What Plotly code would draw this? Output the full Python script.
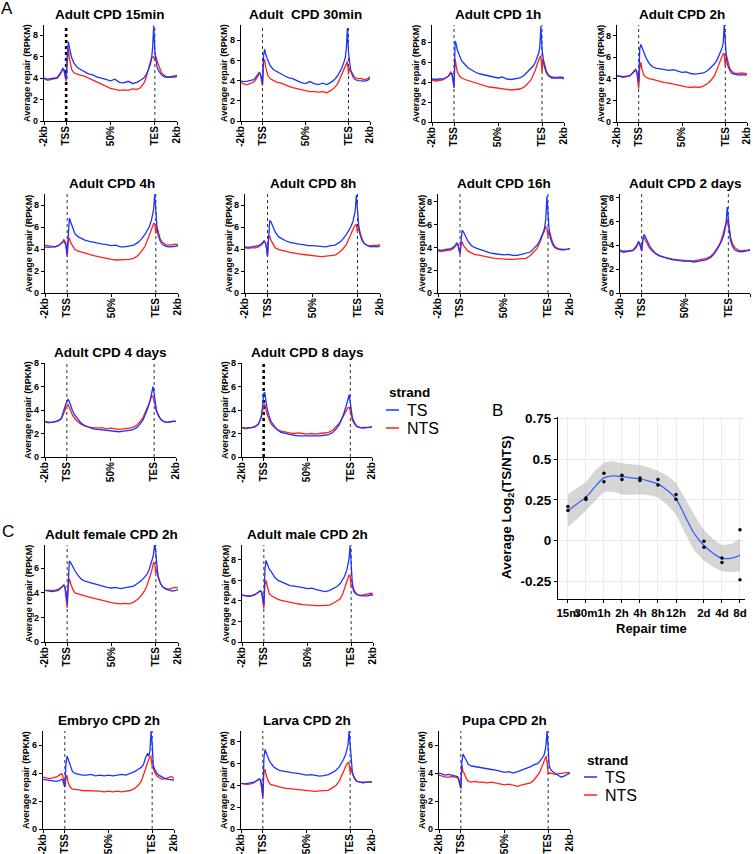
import plotly.graph_objects as go

W, H = 754, 854
FONT = "Liberation Sans, Arial, sans-serif"
BLUE = "#1b33ff"
RED = "#ff2216"

# ---------------- data: metagene profiles (bins: -2kb=0, TSS=20, 50%=60, TES=100, 2kb=120)
BINS = [0, 3, 6, 9, 12, 15, 17, 18, 19, 20, 21, 22, 23, 25, 27, 30, 33, 36, 40, 44, 48, 52, 56, 60,
        64, 68, 72, 76, 80, 84, 87, 90, 92, 94, 96, 97, 98, 99, 100, 101, 102, 104, 106, 109, 112, 115, 118, 120]
TICK_POS = [0, 20, 60, 100, 120]
TICK_TEXT = ["-2kb", "TSS", "50%", "TES", "2kb"]

TS_15MIN = [4.0, 3.9, 3.95, 4.0, 4.05, 4.5, 4.9, 4.8, 4.4, 3.9, 6.2, 7.4, 6.8, 5.9, 5.4, 5.0, 4.8, 4.6, 4.4, 4.3, 4.1, 4.0, 3.85, 3.75,
            3.9, 3.6, 3.55, 3.7, 3.5, 3.6, 3.8, 4.0, 4.3, 4.7, 5.3, 5.8, 6.8, 8.9, 6.5, 5.6, 5.0, 4.6, 4.3, 4.1, 4.1, 4.05, 4.1, 4.15]
NTS_15MIN = [3.95, 3.8, 3.85, 3.9, 4.0, 4.4, 4.85, 4.7, 4.3, 3.7, 5.6, 6.7, 5.8, 4.8, 4.5, 4.35, 4.25, 4.2, 4.0, 3.8, 3.6, 3.4, 3.2, 3.05,
             2.95, 2.85, 2.9, 2.85, 3.0, 2.95, 3.1, 3.5, 4.0, 4.8, 5.6, 5.9, 5.9, 6.05, 5.6, 6.0, 5.6, 5.0, 4.5, 4.2, 4.05, 4.15, 4.2, 4.25]
TS_30MIN = [3.95, 3.9, 3.95, 4.0, 4.1, 4.5, 4.8, 4.7, 4.3, 3.6, 6.5, 7.1, 6.6, 6.0, 5.5, 5.1, 4.9, 4.7, 4.5, 4.3, 4.2, 4.0, 3.8, 3.7,
            3.9, 3.7, 3.6, 3.75, 3.6, 3.85, 4.1, 4.5, 4.9, 5.3, 5.9, 6.3, 7.2, 9.2, 6.8, 5.6, 5.0, 4.4, 4.1, 4.0, 4.0, 3.95, 4.05, 4.2]
NTS_30MIN = [3.8, 3.65, 3.6, 3.7, 3.85, 4.3, 4.75, 4.6, 4.1, 3.5, 5.8, 6.1, 5.3, 4.5, 4.2, 4.0, 3.85, 3.8, 3.6, 3.45, 3.3, 3.2, 3.05, 2.95,
             2.9, 2.9, 2.85, 2.9, 2.8, 3.05, 3.3, 3.7, 4.2, 4.7, 5.3, 5.5, 5.8, 5.9, 4.6, 5.3, 5.0, 4.6, 4.3, 4.2, 4.2, 4.1, 4.2, 4.4]
TS_1H = [4.3, 4.25, 4.3, 4.3, 4.4, 4.6, 4.85, 4.8, 4.3, 3.4, 8.1, 7.8, 7.2, 6.6, 6.1, 5.75, 5.4, 5.2, 4.95, 4.8, 4.7, 4.65, 4.5, 4.4,
         4.5, 4.3, 4.25, 4.35, 4.4, 4.7, 5.0, 5.3, 5.6, 6.0, 6.5, 6.9, 7.5, 9.6, 7.3, 6.3, 5.6, 4.9, 4.6, 4.4, 4.4, 4.45, 4.4, 4.3]
NTS_1H = [4.2, 4.1, 4.15, 4.2, 4.35, 4.6, 5.0, 4.9, 4.3, 3.55, 6.3, 5.7, 5.0, 4.6, 4.4, 4.25, 4.15, 4.05, 3.9, 3.75, 3.6, 3.5, 3.45, 3.4,
          3.35, 3.25, 3.2, 3.25, 3.3, 3.5, 3.8, 4.2, 4.7, 5.2, 5.9, 6.3, 6.5, 6.6, 5.0, 6.3, 5.9, 5.1, 4.7, 4.5, 4.45, 4.5, 4.5, 4.4]
TS_2H = [4.3, 4.25, 4.2, 4.25, 4.3, 4.6, 4.8, 4.7, 4.4, 3.7, 6.8, 7.2, 6.9, 6.3, 5.9, 5.4, 5.1, 5.0, 4.95, 4.9, 4.8, 4.85, 4.7, 4.6,
         4.65, 4.5, 4.45, 4.5, 4.55, 4.8, 5.1, 5.4, 5.7, 6.1, 6.6, 6.9, 7.3, 9.0, 7.0, 5.9, 5.3, 4.8, 4.5, 4.4, 4.35, 4.4, 4.35, 4.4]
NTS_2H = [4.25, 4.2, 4.15, 4.2, 4.3, 4.65, 4.9, 4.8, 4.1, 3.1, 5.0, 5.55, 4.9, 4.3, 4.15, 4.0, 3.95, 3.85, 3.75, 3.65, 3.6, 3.5, 3.4, 3.3,
          3.25, 3.2, 3.25, 3.2, 3.35, 3.6, 3.9, 4.3, 4.8, 5.3, 5.9, 6.2, 6.35, 6.3, 5.1, 6.2, 5.8, 5.0, 4.7, 4.5, 4.5, 4.55, 4.5, 4.45]
TS_4H = [4.2, 4.15, 4.2, 4.2, 4.3, 4.5, 4.7, 4.6, 4.3, 3.5, 6.0, 6.8, 6.5, 5.9, 5.4, 5.1, 4.95, 4.8, 4.7, 4.6, 4.5, 4.45, 4.4, 4.3,
         4.35, 4.2, 4.2, 4.3, 4.35, 4.6, 4.9, 5.3, 5.6, 6.0, 6.6, 7.0, 7.6, 9.0, 7.2, 6.0, 5.3, 4.7, 4.4, 4.25, 4.2, 4.2, 4.25, 4.3]
NTS_4H = [4.35, 4.3, 4.2, 4.2, 4.3, 4.55, 4.85, 4.7, 4.1, 3.3, 4.8, 5.0, 4.6, 4.2, 3.95, 3.8, 3.7, 3.6, 3.5, 3.4, 3.3, 3.2, 3.1, 3.05,
          3.0, 3.0, 3.0, 3.05, 3.15, 3.4, 3.8, 4.2, 4.7, 5.2, 5.8, 6.1, 6.3, 6.3, 5.4, 6.0, 5.6, 4.9, 4.6, 4.4, 4.35, 4.4, 4.45, 4.4]
TS_8H = [4.2, 4.15, 4.2, 4.25, 4.3, 4.5, 4.75, 4.6, 4.2, 3.4, 5.6, 6.6, 6.5, 6.0, 5.5, 5.1, 4.9, 4.75, 4.6, 4.5, 4.45, 4.4, 4.3, 4.3,
         4.25, 4.2, 4.2, 4.3, 4.35, 4.6, 4.9, 5.3, 5.6, 6.0, 6.5, 6.9, 7.5, 8.9, 7.3, 6.2, 5.4, 4.8, 4.5, 4.3, 4.2, 4.25, 4.2, 4.3]
NTS_8H = [4.1, 4.05, 4.1, 4.1, 4.2, 4.4, 4.7, 4.6, 4.1, 3.3, 5.1, 5.2, 4.8, 4.4, 4.1, 3.95, 3.85, 3.8, 3.7, 3.6, 3.55, 3.5, 3.45, 3.4,
          3.35, 3.3, 3.35, 3.4, 3.45, 3.7, 4.0, 4.4, 4.8, 5.3, 5.8, 6.0, 6.2, 6.2, 5.5, 6.0, 5.6, 4.9, 4.5, 4.3, 4.3, 4.3, 4.35, 4.4]
TS_16H = [3.8, 3.75, 3.8, 3.85, 3.9, 4.1, 4.4, 4.3, 4.0, 3.5, 4.6, 5.5, 5.4, 5.0, 4.6, 4.2, 4.0, 3.9, 3.75, 3.6, 3.5, 3.45, 3.4, 3.35,
          3.4, 3.3, 3.3, 3.4, 3.45, 3.6, 3.9, 4.2, 4.5, 4.9, 5.4, 5.8, 6.5, 8.5, 6.8, 5.6, 4.9, 4.3, 4.0, 3.85, 3.8, 3.8, 3.85, 3.9]
NTS_16H = [3.7, 3.65, 3.7, 3.75, 3.8, 4.0, 4.3, 4.25, 3.9, 3.4, 4.3, 4.5, 4.2, 3.9, 3.7, 3.55, 3.4, 3.35, 3.25, 3.15, 3.1, 3.05, 3.0, 3.0,
           2.95, 2.95, 3.0, 3.0, 3.05, 3.3, 3.6, 3.9, 4.3, 4.8, 5.3, 5.6, 5.8, 5.7, 5.0, 5.5, 5.1, 4.5, 4.1, 3.9, 3.85, 3.8, 3.85, 3.9]
TS_2D = [3.6, 3.5, 3.5, 3.55, 3.6, 3.9, 4.3, 4.2, 3.9, 3.6, 4.4, 4.9, 4.8, 4.4, 4.0, 3.6, 3.3, 3.15, 3.0, 2.9, 2.8, 2.75, 2.7, 2.65,
         2.7, 2.6, 2.65, 2.7, 2.8, 3.0, 3.3, 3.7, 4.0, 4.4, 4.9, 5.3, 5.9, 7.2, 6.0, 5.0, 4.4, 3.9, 3.6, 3.5, 3.45, 3.5, 3.55, 3.6]
NTS_2D = [3.5, 3.4, 3.45, 3.5, 3.55, 3.8, 4.2, 4.15, 3.85, 3.5, 4.4, 4.7, 4.5, 4.1, 3.8, 3.5, 3.3, 3.1, 3.0, 2.9, 2.85, 2.8, 2.75, 2.75,
          2.7, 2.7, 2.75, 2.8, 2.9, 3.1, 3.4, 3.8, 4.1, 4.6, 5.2, 5.6, 6.0, 6.2, 5.6, 5.3, 4.7, 4.1, 3.8, 3.6, 3.55, 3.55, 3.6, 3.65]
TS_4D = [3.0, 2.95, 2.95, 3.0, 3.1, 3.3, 3.8, 4.2, 4.5, 4.7, 4.9, 4.8, 4.5, 4.0, 3.6, 3.2, 2.9, 2.7, 2.55, 2.4, 2.35, 2.3, 2.25, 2.2,
         2.2, 2.15, 2.2, 2.25, 2.3, 2.5, 2.8, 3.2, 3.6, 4.1, 4.7, 5.1, 5.6, 6.0, 5.4, 4.6, 4.0, 3.5, 3.2, 3.0, 2.95, 3.0, 3.0, 3.05]
NTS_4D = [3.0, 2.9, 2.95, 3.0, 3.05, 3.25, 3.6, 3.9, 4.2, 4.4, 4.5, 4.3, 4.0, 3.6, 3.3, 3.0, 2.8, 2.65, 2.55, 2.5, 2.45, 2.5, 2.4, 2.45,
          2.4, 2.35, 2.4, 2.45, 2.5, 2.7, 3.0, 3.4, 3.8, 4.2, 4.7, 5.0, 5.2, 5.1, 4.8, 4.4, 3.9, 3.5, 3.2, 3.0, 2.95, 3.0, 3.05, 3.0]
TS_8D = [2.5, 2.45, 2.5, 2.5, 2.6, 2.8, 3.2, 3.6, 4.3, 5.4, 5.5, 4.8, 4.2, 3.5, 3.0, 2.6, 2.3, 2.1, 2.0, 1.9, 1.85, 1.8, 1.8, 1.75,
         1.8, 1.75, 1.8, 1.85, 1.9, 2.1, 2.4, 2.8, 3.2, 3.7, 4.3, 4.7, 5.1, 5.3, 4.6, 3.8, 3.3, 2.9, 2.6, 2.5, 2.45, 2.5, 2.5, 2.55]
NTS_8D = [2.5, 2.4, 2.45, 2.5, 2.55, 2.75, 3.1, 3.4, 3.9, 4.4, 4.5, 4.1, 3.7, 3.2, 2.8, 2.5, 2.3, 2.2, 2.1, 2.05, 2.0, 2.05, 2.0, 1.95,
          2.0, 1.95, 2.0, 2.05, 2.1, 2.3, 2.6, 2.9, 3.2, 3.6, 3.9, 4.1, 4.2, 4.2, 3.9, 3.5, 3.1, 2.8, 2.6, 2.5, 2.5, 2.5, 2.55, 2.6]
TS_FEMALE = [4.2, 4.15, 4.1, 4.15, 4.2, 4.45, 4.65, 4.5, 4.0, 3.1, 5.6, 6.6, 6.5, 6.1, 5.8, 5.4, 5.1, 4.95, 4.85, 4.75, 4.6, 4.55, 4.45, 4.4,
             4.45, 4.35, 4.4, 4.45, 4.55, 4.8, 5.0, 5.3, 5.5, 5.9, 6.4, 6.8, 7.2, 8.1, 7.2, 5.9, 5.3, 4.8, 4.5, 4.3, 4.2, 4.15, 4.2, 4.25]
NTS_FEMALE = [4.2, 4.2, 4.15, 4.2, 4.3, 4.5, 4.6, 4.4, 3.8, 2.8, 4.6, 5.15, 4.8, 4.3, 4.0, 3.9, 3.8, 3.75, 3.65, 3.55, 3.45, 3.35, 3.25, 3.2,
              3.15, 3.1, 3.15, 3.1, 3.25, 3.5, 3.8, 4.2, 4.6, 5.1, 5.7, 6.1, 6.5, 6.4, 5.6, 5.9, 5.4, 4.8, 4.5, 4.35, 4.3, 4.4, 4.45, 4.4]
TS_MALE = [4.55, 4.5, 4.45, 4.5, 4.6, 4.85, 5.0, 4.85, 4.4, 3.6, 7.0, 7.95, 7.6, 7.1, 6.8, 6.3, 6.0, 5.85, 5.7, 5.5, 5.45, 5.4, 5.3, 5.2,
           5.25, 5.1, 5.0, 4.9, 5.0, 5.2, 5.4, 5.7, 6.0, 6.4, 7.0, 7.5, 8.1, 9.4, 7.5, 5.8, 5.2, 4.8, 4.6, 4.5, 4.5, 4.5, 4.6, 4.55]
NTS_MALE = [4.6, 4.55, 4.5, 4.55, 4.65, 4.85, 5.0, 4.8, 4.2, 3.25, 5.6, 6.0, 5.5, 4.7, 4.5, 4.3, 4.15, 4.05, 3.95, 3.85, 3.75, 3.7, 3.65, 3.6,
            3.6, 3.55, 3.55, 3.6, 3.6, 3.8, 4.0, 4.2, 4.6, 5.2, 5.8, 6.1, 6.5, 6.4, 5.4, 5.6, 5.0, 4.7, 4.6, 4.55, 4.6, 4.7, 4.75, 4.7]
TS_EMBRYO = [3.55, 3.5, 3.45, 3.4, 3.4, 3.45, 3.55, 3.5, 3.3, 3.0, 4.6, 5.2, 5.0, 4.5, 4.1, 3.95, 3.9, 3.85, 3.85, 3.9, 3.8, 3.85, 3.8, 3.85,
             3.8, 3.85, 3.9, 3.85, 3.95, 4.1, 4.25, 4.4, 4.6, 5.1, 5.4, 5.2, 5.6, 7.0, 6.1, 4.6, 4.3, 4.0, 3.85, 3.7, 3.6, 3.55, 3.55, 3.5]
NTS_EMBRYO = [3.7, 3.65, 3.6, 3.65, 3.7, 3.85, 3.95, 3.85, 3.4, 3.0, 3.6, 3.85, 3.3, 3.0, 2.85, 2.85, 2.8, 2.75, 2.75, 2.7, 2.75, 2.7, 2.65, 2.7,
              2.65, 2.7, 2.65, 2.7, 2.75, 2.9, 3.1, 3.4, 3.8, 4.3, 4.8, 5.0, 5.2, 5.1, 4.5, 4.4, 4.1, 3.8, 3.7, 3.55, 3.6, 3.7, 3.75, 3.6]
TS_LARVA = [4.2, 4.15, 4.2, 4.25, 4.3, 4.5, 4.6, 4.5, 4.0, 3.0, 6.5, 7.3, 7.0, 6.5, 6.1, 5.7, 5.5, 5.35, 5.3, 5.2, 5.15, 5.1, 5.0, 4.95,
            5.0, 4.9, 4.85, 4.9, 5.0, 5.2, 5.4, 5.7, 6.0, 6.4, 6.9, 7.2, 7.7, 9.0, 7.4, 5.9, 5.2, 4.7, 4.4, 4.3, 4.25, 4.3, 4.35, 4.3]
NTS_LARVA = [4.2, 4.15, 4.1, 4.15, 4.25, 4.45, 4.55, 4.4, 3.8, 2.9, 5.2, 5.5, 5.0, 4.4, 4.1, 4.0, 3.9, 3.85, 3.75, 3.7, 3.65, 3.6, 3.55, 3.5,
             3.5, 3.45, 3.5, 3.5, 3.55, 3.8, 4.0, 4.4, 4.8, 5.3, 5.8, 6.0, 6.1, 6.0, 5.2, 5.6, 5.1, 4.6, 4.4, 4.3, 4.3, 4.35, 4.35, 4.3]
TS_PUPA = [4.0, 3.9, 3.85, 3.9, 3.85, 3.8, 3.75, 3.6, 3.3, 2.9, 4.8, 5.35, 5.2, 4.9, 4.6, 4.5, 4.45, 4.4, 4.35, 4.3, 4.25, 4.2, 4.1, 4.05,
           4.1, 4.0, 4.1, 4.2, 4.3, 4.45, 4.6, 4.65, 4.8, 5.0, 5.25, 5.5, 6.0, 7.0, 5.9, 4.5, 4.3, 4.1, 4.0, 3.85, 3.7, 3.8, 3.9, 4.0]
NTS_PUPA = [3.85, 3.75, 3.7, 3.7, 3.75, 3.7, 3.65, 3.5, 3.2, 2.9, 4.55, 4.1, 4.0, 3.6, 3.4, 3.35, 3.4, 3.35, 3.35, 3.3, 3.35, 3.3, 3.2, 3.15,
            3.2, 3.1, 3.05, 3.15, 3.2, 3.3, 3.5, 3.8, 4.0, 4.4, 4.8, 5.0, 5.2, 4.8, 3.95, 4.0, 4.0, 3.95, 3.9, 3.95, 4.0, 4.0, 4.05, 4.0]

TITLES = ["Adult CPD 15min", "Adult\u00a0 CPD 30min", "Adult CPD 1h", "Adult CPD 2h",
          "Adult CPD 4h", "Adult CPD 8h", "Adult CPD 16h", "Adult CPD 2 days",
          "Adult CPD 4 days", "Adult CPD 8 days",
          "Adult female CPD 2h", "Adult male CPD 2h",
          "Embryo CPD 2h", "Larva CPD 2h", "Pupa CPD 2h"]
SERIES = [(TS_15MIN, NTS_15MIN), (TS_30MIN, NTS_30MIN), (TS_1H, NTS_1H), (TS_2H, NTS_2H),
          (TS_4H, NTS_4H), (TS_8H, NTS_8H), (TS_16H, NTS_16H), (TS_2D, NTS_2D),
          (TS_4D, NTS_4D), (TS_8D, NTS_8D),
          (TS_FEMALE, NTS_FEMALE), (TS_MALE, NTS_MALE),
          (TS_EMBRYO, NTS_EMBRYO), (TS_LARVA, NTS_LARVA), (TS_PUPA, NTS_PUPA)]
Y_TICKS = [0, 2, 4, 6, 8]

# ---------------- data: panel B
B_TIME_LABELS = ["15m", "30m", "1h", "2h", "4h", "8h", "12h", "2d", "4d", "8d"]
B_TIME_X = [1, 2, 3, 4, 5, 6, 7, 8.55, 9.55, 10.55]
B_REP1 = [0.209, 0.262, 0.414, 0.401, 0.385, 0.375, 0.283, -0.004, -0.107, 0.066]
B_REP2 = [0.184, 0.252, 0.361, 0.375, 0.369, 0.342, 0.254, -0.041, -0.135, -0.241]
B_FIT_X = [1, 1.5, 2, 2.5, 3, 3.5, 4, 4.5, 5, 5.5, 6, 6.5, 7, 7.5, 8, 8.55, 9.1, 9.55, 10.1, 10.55]
B_FIT_Y = [0.184, 0.225, 0.266, 0.33, 0.385, 0.398, 0.393, 0.386, 0.379, 0.366, 0.348, 0.31, 0.256, 0.15, 0.045,
           -0.031, -0.082, -0.11, -0.108, -0.092]
B_FIT_HI = [0.285, 0.32, 0.36, 0.43, 0.48, 0.49, 0.475, 0.47, 0.465, 0.45, 0.43, 0.40, 0.355, 0.26, 0.16,
            0.065, 0.005, -0.03, -0.02, 0.01]
B_FIT_LO = [0.085, 0.13, 0.185, 0.245, 0.30, 0.30, 0.285, 0.28, 0.285, 0.28, 0.265, 0.22, 0.16, 0.045, -0.06,
            -0.125, -0.165, -0.19, -0.195, -0.19]
B_Y_TICKS = [-0.25, 0, 0.25, 0.5, 0.75]
B_Y_TEXT = ["-0.25", "0", "0.25", "0.5", "0.75"]

# ---------------- layout geometry (pixels): x0, x1, ytop, ybottom, ymax, thick TSS line
GEOM = [
    (44, 177, 25, 121, 8.95, True), (241, 370, 25, 121, 9.5, False), (432, 564, 25, 122, 9.7, False), (617, 747, 25, 122, 9.0, False),
    (45, 178, 194, 293, 9.0, False), (245, 380, 194, 293, 9.0, False), (438, 570, 194, 293, 8.7, False), (620, 750, 194, 293, 8.3, False),
    (45, 176, 363, 457, 8.0, False), (242, 372, 363, 457, 8.0, True),
    (45, 178, 545, 642, 7.9, False), (242, 373, 545, 642, 9.45, False),
    (43, 174, 731, 829, 7.0, False), (241, 372, 731, 829, 9.0, False), (439, 570, 731, 829, 7.0, False),
]

def px(x):
    return x / W

def py(y):
    return 1 - y / H

fig = go.Figure()
layout = {}
annotations = []
shapes = []

xfont = dict(family=FONT, size=10, color="black", weight="bold")
yfont = dict(family=FONT, size=9, color="black", weight="bold")

for k, ((ts, nts), title, g) in enumerate(zip(SERIES, TITLES, GEOM), start=1):
    x0, x1, yt, yb, ymax, thick = g
    sfx = "" if k == 1 else str(k)
    fig.add_trace(go.Scatter(x=BINS, y=nts, xaxis="x" + sfx, yaxis="y" + sfx, mode="lines",
                             line=dict(color=RED, width=1.3), showlegend=False, hoverinfo="skip"))
    fig.add_trace(go.Scatter(x=BINS, y=ts, xaxis="x" + sfx, yaxis="y" + sfx, mode="lines",
                             line=dict(color=BLUE, width=1.3), showlegend=False, hoverinfo="skip"))
    yt_vals = [v for v in Y_TICKS if v <= ymax]
    layout["xaxis" + sfx] = dict(domain=[px(x0), px(x1)], anchor="y" + sfx, range=[0, 120], automargin=False,
                                 tickmode="array", tickvals=TICK_POS, ticktext=TICK_TEXT, tickangle=-90,
                                 ticks="outside", ticklen=3, tickwidth=1.2, tickcolor="black", showticklabels=True,
                                 ticklabelstandoff=-3,
                                 showline=True, linecolor="black", linewidth=1.3, showgrid=False,
                                 zeroline=False, tickfont=xfont, fixedrange=True)
    layout["yaxis" + sfx] = dict(domain=[py(yb), py(yt)], anchor="x" + sfx, range=[0, ymax], automargin=False,
                                 tickmode="array", tickvals=yt_vals, ticktext=[str(v) for v in yt_vals],
                                 ticks="outside", ticklen=3, tickwidth=1.2, tickcolor="black", showticklabels=True,
                                 showline=True, linecolor="black", linewidth=1.3, showgrid=False,
                                 zeroline=False, tickfont=yfont, fixedrange=True)
    for pos, th in ((TICK_POS[1], thick), (TICK_POS[3], False)):
        shapes.append(dict(type="line", xref="x" + sfx, yref="y" + sfx + " domain", x0=pos, x1=pos, y0=0, y1=1,
                           line=dict(color="black" if th else "#333333", width=2.6 if th else 1, dash="dot"),
                           layer="below"))
    annotations.append(dict(text="<b>" + title + "</b>", x=px((x0 + x1) / 2), y=py(yt - 11), xref="paper", yref="paper",
                            showarrow=False, xanchor="center", yanchor="middle",
                            font=dict(family=FONT, size=13.5, color="black")))
    annotations.append(dict(text="<b>Average repair (RPKM)</b>", x=px(x0 - 17), y=py((yt + yb) / 2), xref="paper",
                            yref="paper", showarrow=False, textangle=-90, xanchor="center", yanchor="middle",
                            font=dict(family=FONT, size=9, color="black")))

# ---------------- panel B
kb = len(SERIES) + 1
sb = str(kb)
fig.add_trace(go.Scatter(x=B_FIT_X, y=B_FIT_HI, xaxis="x" + sb, yaxis="y" + sb, mode="lines",
                         line=dict(width=0, color="rgba(0,0,0,0)"), showlegend=False, hoverinfo="skip"))
fig.add_trace(go.Scatter(x=B_FIT_X, y=B_FIT_LO, xaxis="x" + sb, yaxis="y" + sb, mode="lines", fill="tonexty",
                         fillcolor="rgba(153,153,153,0.4)", line=dict(width=0, color="rgba(0,0,0,0)"),
                         showlegend=False, hoverinfo="skip"))
fig.add_trace(go.Scatter(x=B_FIT_X, y=B_FIT_Y, xaxis="x" + sb, yaxis="y" + sb, mode="lines",
                         line=dict(color="#3366FF", width=1.3, shape="spline"), showlegend=False, hoverinfo="skip"))
fig.add_trace(go.Scatter(x=B_TIME_X + B_TIME_X, y=B_REP1 + B_REP2, xaxis="x" + sb, yaxis="y" + sb, mode="markers",
                         marker=dict(color="black", size=3.5), showlegend=False, hoverinfo="skip"))
layout["xaxis" + sb] = dict(domain=[px(558), px(745)], anchor="y" + sb, range=[0.45, 10.83], automargin=False,
                            tickmode="array", tickvals=B_TIME_X, ticktext=B_TIME_LABELS, tickangle=0,
                            ticks="outside", ticklen=3, tickcolor="black", showline=True, linecolor="black",
                            linewidth=1.2, showgrid=True, gridcolor="#ebebeb", gridwidth=1, zeroline=False,
                            tickfont=dict(family=FONT, size=11.5, color="black", weight="bold"), fixedrange=True)
layout["yaxis" + sb] = dict(domain=[py(599), py(417)], anchor="x" + sb, range=[-0.36, 0.76], automargin=False,
                            tickmode="array", tickvals=B_Y_TICKS, ticktext=B_Y_TEXT,
                            ticks="outside", ticklen=3, tickcolor="black", showline=True, linecolor="black",
                            linewidth=1.2, showgrid=True, gridcolor="#ebebeb", gridwidth=1, zeroline=False,
                            tickfont=dict(family=FONT, size=13.5, color="black", weight="bold"), fixedrange=True)
annotations.append(dict(text="<b>Average Log<sub>2</sub>(TS/NTS)</b>", x=px(507), y=py(507), xref="paper", yref="paper",
                        showarrow=False, textangle=-90, xanchor="center", yanchor="middle",
                        font=dict(family=FONT, size=13.5, color="black")))
annotations.append(dict(text="<b>Repair time</b>", x=px(651), y=py(628), xref="paper", yref="paper",
                        showarrow=False, xanchor="center", yanchor="middle",
                        font=dict(family=FONT, size=13, color="black")))

# ---------------- panel letters
for letter, lx, ly in (("A", 7, 8), ("B", 497, 410), ("C", 8, 531)):
    annotations.append(dict(text=letter, x=px(lx), y=py(ly), xref="paper", yref="paper", showarrow=False,
                            xanchor="center", yanchor="middle", font=dict(family=FONT, size=17, color="black")))

# ---------------- legends
for lx, ly in ((387, 393), (585, 760)):
    annotations.append(dict(text="<b>strand</b>", x=px(lx), y=py(ly), xref="paper", yref="paper", showarrow=False,
                            xanchor="left", yanchor="middle", font=dict(family=FONT, size=13.5, color="black")))
    for j, (name, col) in enumerate((("TS", BLUE), ("NTS", RED))):
        yy = ly + 17 + j * 18
        shapes.append(dict(type="line", xref="paper", yref="paper", x0=px(lx - 1), x1=px(lx + 12), y0=py(yy), y1=py(yy),
                           line=dict(color=col, width=1.5)))
        annotations.append(dict(text=name, x=px(lx + 18), y=py(yy), xref="paper", yref="paper", showarrow=False,
                                xanchor="left", yanchor="middle", font=dict(family=FONT, size=16, color="black")))

fig.update_layout(template="none", width=W, height=H, margin=dict(l=0, r=0, t=0, b=0, pad=0, autoexpand=False),
                  plot_bgcolor="white", paper_bgcolor="white",
                  annotations=annotations, shapes=shapes, showlegend=False, **layout)
fig.write_html("out.html", config={"displayModeBar": False},
               post_script="document.body.style.margin='0px';document.body.style.padding='0px';")
